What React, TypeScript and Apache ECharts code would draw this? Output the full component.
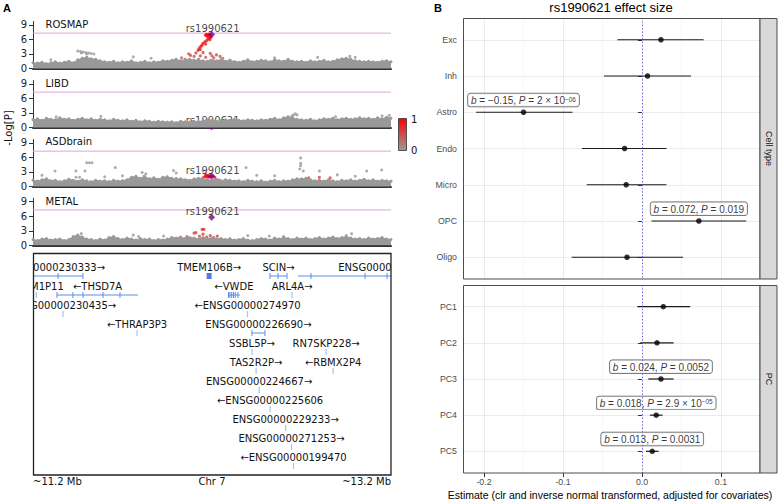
import React, { useEffect, useRef } from 'react';
import * as echarts from 'echarts';

// ---------------- Panel A data ----------------
const panelNames = ['ROSMAP', 'LIBD', 'ASDbrain', 'METAL'];
const leadSnp = 'rs1990621';
const leadPos = 12.198;
const leadLogP = [7.0, 0.15, 2.1, 5.8];
const gwsLine = 7.3;
const regionStart = 11.2;
const regionEnd = 13.2;
const yTickValues = [0, 3, 6, 9];

const bandPos = [
  11.2, 11.225, 11.25, 11.275, 11.3, 11.325, 11.35, 11.375, 11.4, 11.425,
  11.45, 11.475, 11.5, 11.525, 11.55, 11.575, 11.6, 11.625, 11.65, 11.675,
  11.7, 11.725, 11.75, 11.775, 11.8, 11.825, 11.85, 11.875, 11.9, 11.925,
  11.95, 11.975, 12.0, 12.025, 12.05, 12.075, 12.1, 12.125, 12.15, 12.175,
  12.2, 12.225, 12.25, 12.275, 12.3, 12.325, 12.35, 12.375, 12.4, 12.425,
  12.45, 12.475, 12.5, 12.525, 12.55, 12.575, 12.6, 12.625, 12.65, 12.675,
  12.7, 12.725, 12.75, 12.775, 12.8, 12.825, 12.85, 12.875, 12.9, 12.925,
  12.95, 12.975, 13.0, 13.025, 13.05, 13.075, 13.1, 13.125, 13.15, 13.175,
  13.2,
];

const rosmapBand = [
  1.2, 1.1, 1.3, 1.0, 1.2, 1.4, 1.1, 1.3, 1.5, 1.2,
  1.8, 2.1, 2.3, 2.0, 1.9, 1.6, 1.4, 1.3, 1.5, 1.2,
  1.4, 1.3, 1.6, 1.2, 1.3, 1.5, 1.2, 1.4, 1.3, 1.6,
  1.5, 1.7, 1.9, 1.6, 1.8, 1.9, 1.7, 1.8, 1.6, 1.5,
  1.7, 1.6, 1.8, 1.5, 1.7, 1.4, 1.3, 1.5, 1.8, 1.4,
  1.5, 1.7, 1.6, 1.4, 1.8, 1.6, 1.5, 1.9, 1.5, 1.4,
  1.5, 1.3, 1.6, 1.4, 1.5, 1.7, 1.4, 1.5, 1.8, 2.0,
  2.1, 1.9, 1.6, 1.5, 1.4, 1.5, 1.4, 1.3, 1.5, 1.6,
  1.4,
];
const libdBand = [
  1.6, 1.8, 1.5, 1.9, 1.7, 1.6, 2.0, 1.7, 1.8, 1.5,
  1.7, 1.9, 1.6, 1.8, 1.5, 1.7, 1.6, 1.4, 1.7, 1.5,
  1.4, 1.6, 1.3, 1.5, 1.2, 1.4, 1.3, 1.1, 1.3, 1.2,
  1.1, 1.2, 1.0, 1.3, 1.2, 1.1, 1.3, 1.2, 1.4, 1.6,
  1.5, 1.3, 1.4, 1.6, 1.5, 1.7, 1.5, 1.4, 1.6, 1.5,
  1.4, 1.6, 1.5, 1.7, 1.9, 1.6, 2.0, 2.2, 2.0, 1.7,
  1.6, 1.5, 1.7, 1.4, 1.6, 1.8, 1.7, 1.9, 1.6, 1.8,
  1.9, 1.7, 1.8, 2.0, 1.8, 1.9, 1.7, 2.0, 1.8, 2.1,
  1.9,
];
const asdBand = [
  1.3, 1.1, 1.4, 1.6, 1.2, 1.3, 1.0, 1.2, 1.5, 1.3,
  1.1, 1.4, 1.2, 1.0, 1.3, 1.1, 1.2, 1.0, 1.3, 1.1,
  1.2, 1.4, 1.9, 2.1, 1.7, 2.0, 1.6, 1.8, 1.5, 1.9,
  2.0, 1.7, 1.5, 1.6, 1.4, 1.3, 1.5, 1.7, 1.6, 1.4,
  1.3, 1.5, 1.2, 1.4, 1.3, 1.1, 1.2, 1.0, 1.3, 1.1,
  1.0, 1.2, 0.9, 1.1, 1.3, 1.0, 1.2, 1.1, 1.4, 1.6,
  1.5, 1.7, 1.4, 1.2, 1.3, 1.1, 1.4, 1.2, 1.0, 1.3,
  1.2, 1.4, 1.1, 1.3, 1.5, 1.2, 1.4, 1.1, 1.3, 1.2,
  1.1,
];
const metalBand = [
  1.2, 1.0, 1.3, 1.4, 1.1, 1.2, 1.3, 1.0, 1.2, 1.8,
  2.1, 1.7, 1.3, 1.2, 1.0, 1.3, 1.1, 1.6, 1.8, 1.4,
  1.2, 1.5, 1.3, 1.1, 1.4, 1.2, 1.3, 1.0, 1.2, 1.1,
  1.3, 1.6, 1.5, 1.7, 1.4, 1.6, 1.5, 1.3, 1.6, 1.4,
  1.5, 1.3, 1.4, 1.2, 1.3, 1.1, 1.2, 1.4, 1.1, 1.0,
  1.2, 1.4, 1.3, 1.1, 1.5, 1.3, 1.6, 1.4, 1.2, 1.5,
  1.3, 1.5, 1.2, 1.4, 1.6, 1.3, 1.5, 1.7, 1.4, 1.6,
  1.8, 1.5, 1.3, 1.4, 1.2, 1.5, 1.3, 1.4, 1.6, 1.3,
  1.2,
];

const rosmapOut = [
  [11.45, 3.6], [11.465, 3.5], [11.48, 3.4], [11.495, 3.3], [11.51, 3.2], [11.525, 3.1],
  [11.54, 3.0], [11.47, 3.2], [11.5, 3.0], [11.76, 2.4], [11.86, 2.1], [12.79, 2.3],
  [12.97, 2.5], [13.0, 2.3], [11.3, 1.8], [12.55, 2.2],
];
const libdOut = [
  [12.655, 2.6], [12.665, 2.85], [12.675, 2.6], [12.645, 2.3], [11.33, 2.2], [11.58, 2.3],
  [13.15, 2.4], [12.89, 2.2], [13.19, 2.5],
];
const asdOut = [
  [11.5, 4.9], [11.515, 4.9], [11.53, 4.9], [11.323, 3.2], [11.44, 3.2], [11.49, 3.2],
  [11.66, 3.9], [11.44, 1.9], [11.46, 1.9], [11.81, 2.9], [11.83, 2.6], [11.82, 2.1],
  [11.7, 2.2], [11.985, 3.3], [12.0, 2.8], [12.39, 3.9], [12.695, 5.9], [12.695, 4.8],
  [12.695, 4.3], [12.69, 3.6], [12.71, 3.2], [12.8, 3.2], [13.064, 3.2], [13.148, 3.4],
  [12.45, 2.3], [12.55, 2.2], [12.9, 2.4], [13.0, 2.1], [11.25, 2.3], [11.6, 2.0], [12.15, 3.2],
];
const metalOut = [
  [11.76, 2.1], [11.79, 1.8], [11.93, 1.9], [12.4, 2.0], [12.52, 1.9], [12.98, 2.4],
  [12.95, 2.0], [11.47, 2.4], [12.6, 1.8],
];

// [position Mb, -log10 P, r2 with lead SNP]
const rosmapLd = [
  [12.163, 6.9, 1], [12.17, 7.05, 1], [12.177, 6.85, 1], [12.184, 7.1, 1], [12.19, 6.95, 1],
  [12.172, 6.7, 1], [12.186, 6.75, 0.95], [12.182, 6.45, 0.9], [12.19, 6.3, 0.9], [12.178, 6.1, 0.9],
  [12.188, 5.95, 0.9], [12.195, 6.55, 0.9], [12.17, 5.75, 0.85], [12.16, 5.5, 0.85], [12.15, 5.2, 0.85],
  [12.165, 5.05, 0.8], [12.145, 4.85, 0.8], [12.14, 4.6, 0.75], [12.132, 4.35, 0.75], [12.127, 4.0, 0.7],
  [12.122, 3.75, 0.7], [12.135, 3.9, 0.7],
  [12.07, 3.0, 0.5], [12.11, 3.2, 0.55], [12.15, 3.3, 0.55], [12.19, 3.1, 0.5], [12.225, 2.8, 0.5],
  [12.1, 2.5, 0.5], [12.165, 2.3, 0.45], [12.21, 2.2, 0.45], [12.05, 1.9, 0.4], [12.125, 1.9, 0.4],
  [12.19, 1.6, 0.4], [12.09, 1.2, 0.35], [12.15, 1.0, 0.35], [12.225, 1.0, 0.35], [11.99, 1.6, 0.3],
  [12.3, 1.7, 0.35], [12.01, 0.9, 0.3], [12.265, 0.8, 0.3], [12.3, 0.5, 0.3], [12.06, 0.6, 0.3],
  [12.18, 0.4, 0.3], [12.245, 2.5, 0.45], [12.08, 2.7, 0.5], [12.135, 2.6, 0.5], [12.2, 2.6, 0.5],
  [12.03, 2.2, 0.4], [12.26, 2.1, 0.4], [12.33, 1.3, 0.3],
];
const libdLd = [
  [12.185, 0.35, 1], [12.19, 0.5, 1], [12.18, 0.25, 1], [12.17, 0.4, 0.9], [12.205, 0.3, 0.9],
  [12.16, 0.6, 0.6], [12.22, 0.5, 0.5], [12.1, 0.8, 0.4], [12.25, 0.9, 0.4], [12.05, 0.7, 0.35],
  [12.3, 0.6, 0.35],
];
const asdLd = [
  [12.16, 2.0, 1], [12.17, 2.2, 1], [12.18, 2.3, 1], [12.19, 2.1, 1], [12.175, 1.9, 1],
  [12.185, 2.0, 0.95], [12.165, 2.4, 0.95], [12.205, 2.2, 0.9], [12.215, 1.9, 0.9], [12.15, 1.8, 0.9],
  [12.1, 1.5, 0.6], [12.06, 1.2, 0.5], [12.0, 1.6, 0.55], [12.13, 0.9, 0.6], [12.24, 1.3, 0.55],
  [12.28, 0.8, 0.5], [12.33, 1.0, 0.5], [11.96, 0.8, 0.45], [12.035, 0.6, 0.5], [12.74, 1.8, 0.5],
  [12.8, 1.9, 0.6], [12.86, 1.8, 0.55], [12.7, 1.5, 0.5], [11.42, 0.9, 0.5], [11.7, 1.1, 0.5],
];
const metalLd = [
  [12.145, 3.3, 0.7], [12.155, 3.28, 0.7], [12.11, 2.6, 0.6], [12.1, 2.5, 0.55], [12.15, 2.3, 0.6],
  [12.19, 2.0, 0.6], [12.13, 1.9, 0.5], [12.17, 1.7, 0.55], [12.06, 1.8, 0.45], [12.21, 1.6, 0.5],
  [12.23, 1.9, 0.5], [12.08, 1.4, 0.4], [12.25, 1.2, 0.4], [12.02, 1.1, 0.35], [12.3, 1.3, 0.35],
  [12.14, 1.3, 0.5], [12.2, 1.2, 0.5],
];

const bands = [rosmapBand, libdBand, asdBand, metalBand];
const outs = [rosmapOut, libdOut, asdOut, metalOut];
const lds = [rosmapLd, libdLd, asdLd, metalLd];

// ---------------- Gene track ----------------
const geneNames = [
  'ENSG00000230333→', 'TMEM106B→', 'SCIN→', 'ENSG0000', 'M1P11', '←THSD7A', '←VWDE', 'ARL4A→',
  'ENSG00000230435→', '←ENSG00000274970', '←THRAP3P3', 'ENSG00000226690→', 'SSBL5P→', 'RN7SKP228→',
  'TAS2R2P→', '←RBMX2P4', 'ENSG00000224667→', '←ENSG00000225606', 'ENSG00000229233→',
  'ENSG00000271253→', '←ENSG00000199470',
];
const geneStart = [
  11.133, 12.17, 12.524, 12.68, 11.217, 11.334, 12.289, 12.646, 11.366, 12.397, 11.78,
  12.423, 12.422, 12.836, 12.445, 12.875, 12.462, 12.523, 12.61, 12.643, 12.654,
];
const geneEnd = [
  11.479, 12.198, 12.619, 13.429, 11.22, 11.787, 12.356, 12.649, 11.369, 12.4, 11.783,
  12.496, 12.425, 12.839, 12.448, 12.878, 12.465, 12.526, 12.613, 12.646, 12.657,
];
const geneRow = [0, 0, 0, 0, 1, 1, 1, 1, 2, 2, 3, 3, 4, 4, 5, 5, 6, 7, 8, 9, 10];
const geneLabelAt: Record<number, number> = { 4: 11.278 };
const geneExons: Record<number, number[]> = {
  0: [11.34, 11.479],
  2: [12.524, 12.569, 12.619],
  3: [12.753, 13.055, 13.178],
  5: [11.334, 11.423, 11.479, 11.591, 11.686],
  6: [12.292, 12.3, 12.31, 12.32, 12.33, 12.345],
  11: [12.423, 12.496],
};
const regionLabels = ['~11.2 Mb', 'Chr 7', '~13.2 Mb'];

// ---------------- Panel B data ----------------
const cellTypes = ['Exc', 'Inh', 'Astro', 'Endo', 'Micro', 'OPC', 'Oligo'];
const cellEst = [0.024, 0.007, -0.15, -0.022, -0.02, 0.072, -0.019];
const cellLo = [-0.031, -0.048, -0.21, -0.076, -0.07, 0.012, -0.089];
const cellHi = [0.078, 0.062, -0.088, 0.031, 0.031, 0.132, 0.052];
const cellAnnB = ['', '', '−0.15', '', '', '0.072', ''];
const cellAnnP = ['', '', '2 × 10', '', '', '0.019', ''];
const cellAnnExp = ['', '', '−06', '', '', '', ''];

const pcs = ['PC1', 'PC2', 'PC3', 'PC4', 'PC5'];
const pcEst = [0.027, 0.019, 0.024, 0.018, 0.013];
const pcLo = [-0.006, -0.002, 0.008, 0.01, 0.005];
const pcHi = [0.061, 0.04, 0.04, 0.026, 0.021];
const pcAnnB = ['', '', '0.024', '0.018', '0.013'];
const pcAnnP = ['', '', '0.0052', '2.9 × 10', '0.0031'];
const pcAnnExp = ['', '', '', '−05', ''];

const xTickValues = [-0.2, -0.1, 0, 0.1];
const facetNames = ['Cell type', 'PC'];
const titleB = 'rs1990621 effect size';
const xTitleB = 'Estimate (clr and inverse normal transformed, adjusted for covariates)';

const FONT_A = "'DejaVu Sans', sans-serif";
const FONT_B = "'Liberation Sans', Arial, sans-serif";
const GREY = '#999999';
const PINK = '#d8a6d8';

export default function App() {
  const ref = useRef<HTMLDivElement>(null);
  useEffect(() => {
    if (!ref.current) return;
    const chart = echarts.init(ref.current, undefined, { renderer: 'svg' });

    const panelTops = [21.5, 80.5, 139.5, 198.3];
    const grids: any[] = panelTops.map((t) => ({ left: 33, top: t, width: 358, height: 47 }));
    grids.push({ left: 33, top: 253, width: 358, height: 222 });
    grids.push({ left: 463, top: 18, width: 297, height: 261 });
    grids.push({ left: 463, top: 285, width: 297, height: 188 });

    const xAxes: any[] = [];
    const yAxes: any[] = [];
    for (let i = 0; i < 4; i++) {
      xAxes.push({
        gridIndex: i, type: 'value', min: regionStart, max: regionEnd,
        axisLine: { show: true, onZero: false, lineStyle: { color: '#333', width: 2 } },
        axisTick: { show: false }, axisLabel: { show: false }, splitLine: { show: false },
      });
      yAxes.push({
        gridIndex: i, type: 'value', min: 0, max: 9.7, interval: 3,
        axisLine: { show: true, lineStyle: { color: '#333', width: 1 } },
        axisTick: { show: true, length: 4, customValues: yTickValues, lineStyle: { color: '#333' } },
        axisLabel: {
          customValues: yTickValues, fontSize: 10, color: '#222', fontFamily: FONT_A, margin: 6,
          formatter: (v: number) => (v % 3 === 0 ? String(v) : ''),
        },
        splitLine: { show: false },
      });
    }
    xAxes.push({ gridIndex: 4, type: 'value', min: regionStart, max: regionEnd, show: false });
    yAxes.push({ gridIndex: 4, type: 'value', min: -0.737, max: 10.947, inverse: true, show: false });

    const bX = (gi: number, bottom: boolean) => ({
      gridIndex: gi, type: 'value', min: -0.2266, max: 0.1494,
      axisLine: { show: false },
      axisTick: { show: bottom, length: 4, customValues: xTickValues, lineStyle: { color: '#333' } },
      axisLabel: {
        show: bottom, customValues: xTickValues, fontSize: 8.8, color: '#4d4d4d', fontFamily: FONT_B, margin: 4,
        formatter: (v: number) => (Math.abs(v * 10 - Math.round(v * 10)) < 1e-6 ? v.toFixed(1) : ''),
      },
      splitLine: { show: true, lineStyle: { color: '#ebebeb', width: 1 } },
      minorTick: { show: false, splitNumber: 2 },
      minorSplitLine: { show: true, lineStyle: { color: '#f2f2f2', width: 0.7 } },
    });
    const bY = (gi: number, cats: string[]) => {
      const vals = cats.map((_, k) => k + 1);
      return {
        gridIndex: gi, type: 'value', min: 0.4, max: cats.length + 0.6, inverse: true,
        axisLine: { show: false },
        axisTick: { show: true, length: 4, customValues: vals, lineStyle: { color: '#333' } },
        axisLabel: {
          customValues: vals, fontSize: 8.8, color: '#4d4d4d', fontFamily: FONT_B, margin: 6,
          formatter: (v: number) => (Number.isInteger(v) ? cats[v - 1] ?? '' : ''),
        },
        splitLine: { show: true, lineStyle: { color: '#ebebeb', width: 1 } },
      };
    };
    xAxes.push(bX(5, false));
    yAxes.push(bY(5, cellTypes));
    xAxes.push(bX(6, true));
    yAxes.push(bY(6, pcs));

    const series: any[] = [];
    const ldSeriesIdx: number[] = [];
    for (let i = 0; i < 4; i++) {
      series.push({
        type: 'line', xAxisIndex: i, yAxisIndex: i,
        data: [[regionStart, gwsLine], [regionEnd, gwsLine]],
        showSymbol: false, lineStyle: { color: PINK, width: 1 }, itemStyle: { color: PINK },
        silent: true, z: 1,
      });
      series.push({
        type: 'line', xAxisIndex: i, yAxisIndex: i,
        data: bandPos.map((p, k) => [p, bands[i][k]]),
        showSymbol: true, showAllSymbol: true, symbol: 'circle', symbolSize: 3,
        itemStyle: { color: GREY }, lineStyle: { color: GREY, width: 1 },
        areaStyle: { color: GREY, opacity: 1 }, silent: true,
      });
      series.push({
        type: 'scatter', xAxisIndex: i, yAxisIndex: i, data: outs[i],
        symbolSize: 3, itemStyle: { color: GREY }, silent: true,
      });
      ldSeriesIdx.push(series.length);
      series.push({
        type: 'scatter', xAxisIndex: i, yAxisIndex: i, data: lds[i],
        symbolSize: 3.2, silent: true,
      });
      series.push({
        type: 'scatter', xAxisIndex: i, yAxisIndex: i,
        data: [[leadPos, leadLogP[i]]], symbol: 'diamond', symbolSize: 7,
        itemStyle: { color: '#800080' }, silent: true,
        label: {
          show: true, position: 'inside', offset: [1, -6], formatter: leadSnp,
          fontSize: 10, fontFamily: FONT_A, color: '#111',
        },
      });
    }

    // gene track
    series.push({
      type: 'custom', xAxisIndex: 4, yAxisIndex: 4, silent: true,
      data: geneNames.map((_, k) => [
        geneStart[k], geneEnd[k], geneRow[k],
        geneLabelAt[k] ?? (geneStart[k] + geneEnd[k]) / 2,
      ]),
      renderItem: (params: any, api: any) => {
        const k = params.dataIndex;
        const r = api.value(2);
        const a = api.coord([api.value(0), r]);
        const b = api.coord([api.value(1), r]);
        const l = api.coord([api.value(3), r]);
        const ly = a[1] + 9;
        const w = b[0] - a[0];
        const children: any[] = [];
        const blue = '#5b8def';
        if (w < 2.5) {
          children.push({ type: 'rect', shape: { x: (a[0] + b[0]) / 2 - 0.6, y: ly - 3, width: 1.2, height: 6 }, style: { fill: '#a9c0f2' } });
        } else if (w < 8) {
          children.push({ type: 'rect', shape: { x: a[0], y: ly - 3, width: w, height: 6 }, style: { fill: '#4a7de8' } });
        } else {
          children.push({ type: 'line', shape: { x1: a[0], y1: ly, x2: b[0], y2: ly }, style: { stroke: blue, lineWidth: 1 } });
          (geneExons[k] || []).forEach((ex) => {
            const c = api.coord([ex, r]);
            children.push({ type: 'line', shape: { x1: c[0], y1: ly - 3, x2: c[0], y2: ly + 3 }, style: { stroke: blue, lineWidth: 1 } });
          });
        }
        children.push({
          type: 'text', x: l[0], y: l[1],
          style: { text: geneNames[k], align: 'center', verticalAlign: 'middle', fontSize: 10, fontFamily: FONT_A, fill: '#111' },
        });
        const cs = params.coordSys;
        return { type: 'group', children, clipPath: { type: 'rect', shape: { x: cs.x, y: cs.y, width: cs.width, height: cs.height } } };
      },
    });

    // panel B
    const annLabel = {
      show: false, position: 'top', distance: 3, fontSize: 10, fontFamily: FONT_B, color: '#000',
      backgroundColor: '#fff', borderColor: '#333', borderWidth: 0.7, borderRadius: 2.5, padding: [2, 3, 1, 3],
      rich: {
        i: { fontStyle: 'italic', fontSize: 10, fontFamily: FONT_B, color: '#000' },
        s: { fontSize: 6.5, fontFamily: FONT_B, verticalAlign: 'top', color: '#000' },
      },
    };
    const facets = [
      { gi: 5, est: cellEst, lo: cellLo, hi: cellHi, b: cellAnnB, p: cellAnnP, e: cellAnnExp },
      { gi: 6, est: pcEst, lo: pcLo, hi: pcHi, b: pcAnnB, p: pcAnnP, e: pcAnnExp },
    ];
    facets.forEach((f) => {
      series.push({
        type: 'custom', xAxisIndex: f.gi, yAxisIndex: f.gi, silent: true,
        data: f.est.map((_, k) => [f.lo[k], f.hi[k], k + 1]),
        renderItem: (params: any, api: any) => {
          const p1 = api.coord([api.value(0), api.value(2)]);
          const p2 = api.coord([api.value(1), api.value(2)]);
          return { type: 'line', shape: { x1: p1[0], y1: p1[1], x2: p2[0], y2: p2[1] }, style: { stroke: '#1a1a1a', lineWidth: 1.2 } };
        },
        markLine: {
          silent: true, symbol: ['none', 'none'], label: { show: false },
          lineStyle: { color: '#5a5ae6', width: 1, type: [1.2, 2.2] },
          data: [{ xAxis: 0 }],
        },
      });
      series.push({
        type: 'scatter', xAxisIndex: f.gi, yAxisIndex: f.gi, silent: true,
        symbolSize: 5.5, itemStyle: { color: '#000' }, label: annLabel,
        data: f.est.map((v, k) => {
          if (!f.b[k]) return [v, k + 1];
          const txt = `{i|b} = ${f.b[k]}, {i|P} = ${f.p[k]}` + (f.e[k] ? `{s|${f.e[k]}}` : '');
          return { value: [v, k + 1], label: { show: true, formatter: txt } };
        }),
      });
    });

    const txt = (text: string, x: number, y: number, o: any = {}) => ({
      type: 'text', x, y, z: 100, rotation: o.rotation || 0,
      style: {
        text, fontSize: o.size || 10, fontFamily: o.font || FONT_A, fill: o.color || '#111',
        fontWeight: o.weight || 'normal',
        align: o.align || 'left', textAlign: o.align || 'left',
        verticalAlign: 'middle', textVerticalAlign: 'middle',
      },
    });

    const graphic: any[] = [
      txt('A', 3, 8, { weight: 'bold', size: 11, font: FONT_B, color: '#000' }),
      txt('B', 434, 8, { weight: 'bold', size: 11, font: FONT_B, color: '#000' }),
      ...panelNames.map((n, i) => txt(n, 45.5, [24.5, 83.7, 141.7, 201][i])),
      txt('-Log[P]', 8, 128, { rotation: Math.PI / 2, align: 'center' }),
      {
        type: 'rect', z: 100, shape: { x: 398.5, y: 118.5, width: 8, height: 32 },
        style: {
          fill: new echarts.graphic.LinearGradient(0, 0, 0, 1, [
            { offset: 0, color: '#ff0000' }, { offset: 1, color: GREY },
          ]),
          stroke: '#333', lineWidth: 0.8,
        },
      },
      txt('1', 411, 119),
      txt('0', 411, 150),
      txt(regionLabels[0], 33, 481),
      txt(regionLabels[1], 212, 481, { align: 'center' }),
      txt(regionLabels[2], 391, 481, { align: 'right' }),
      txt(titleB, 611, 7, { font: FONT_B, size: 13, color: '#000', align: 'center' }),
      txt(xTitleB, 610, 494.5, { font: FONT_B, size: 10.5, color: '#000', align: 'center' }),
      { type: 'rect', z: 100, shape: { x: 463.5, y: 18.5, width: 296.5, height: 260.5 }, style: { fill: 'none', stroke: '#4d4d4d', lineWidth: 1 } },
      { type: 'rect', z: 100, shape: { x: 463.5, y: 285.5, width: 296.5, height: 187.5 }, style: { fill: 'none', stroke: '#4d4d4d', lineWidth: 1 } },
      { type: 'rect', z: 100, shape: { x: 760, y: 18.5, width: 17, height: 260.5 }, style: { fill: '#d9d9d9', stroke: '#4d4d4d', lineWidth: 1 } },
      { type: 'rect', z: 100, shape: { x: 760, y: 285.5, width: 17, height: 187.5 }, style: { fill: '#d9d9d9', stroke: '#4d4d4d', lineWidth: 1 } },
      txt(facetNames[0], 768.5, 148.5, { font: FONT_B, size: 9, color: '#1a1a1a', rotation: -Math.PI / 2, align: 'center' }),
      txt(facetNames[1], 768.5, 379, { font: FONT_B, size: 9, color: '#1a1a1a', rotation: -Math.PI / 2, align: 'center' }),
      { type: 'rect', z: 100, shape: { x: 33.5, y: 253.5, width: 357.5, height: 221.5 }, style: { fill: 'none', stroke: '#222', lineWidth: 1.3 } },
    ];

    chart.setOption({
      animation: false,
      backgroundColor: '#fff',
      grid: grids,
      xAxis: xAxes,
      yAxis: yAxes,
      visualMap: [{
        type: 'continuous', show: false, min: 0, max: 1, dimension: 2,
        seriesIndex: ldSeriesIdx, inRange: { color: [GREY, '#ff0000'] },
      }],
      series,
      graphic,
    });
    return () => chart.dispose();
  }, []);
  return <div ref={ref} style={{ position: 'fixed', left: 0, top: 0, width: 783, height: 501, background: '#fff' }} />;
}
